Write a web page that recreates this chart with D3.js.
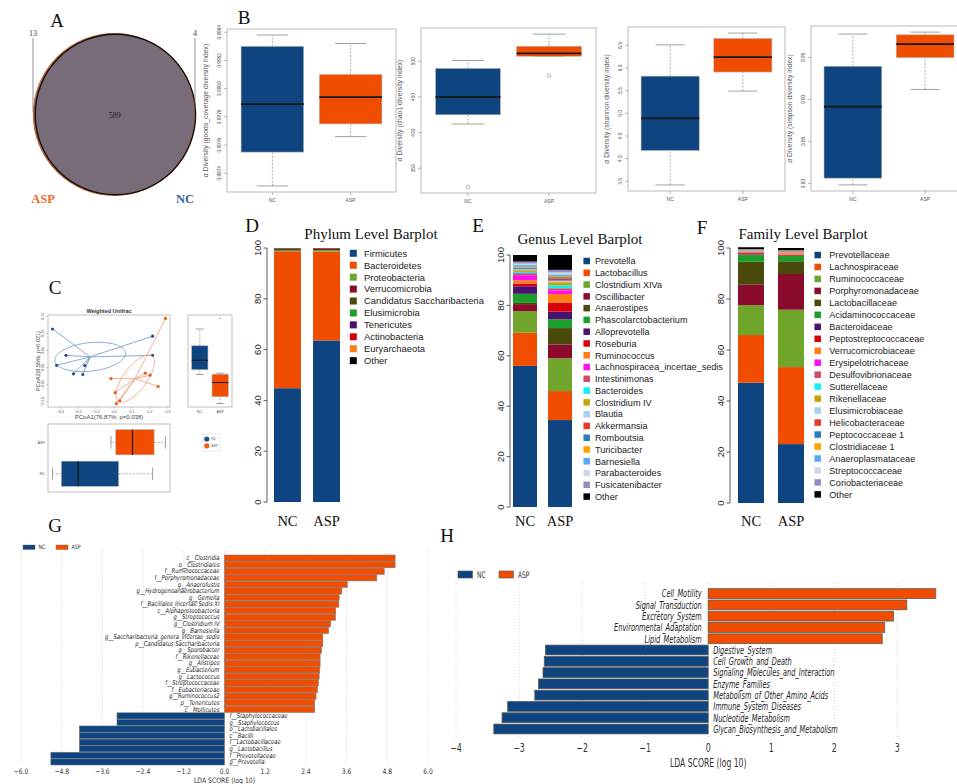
<!DOCTYPE html>
<html>
<head>
<meta charset="utf-8">
<script src="https://cdn.jsdelivr.net/npm/d3@7"></script>
<style>
  html, body { margin: 0; padding: 0; background: #fff; }
  svg { display: block; }
</style>
</head>
<body>
<svg id="fig" width="957" height="784"></svg>
<script>
// ---------------- data ----------------
const groups = ["NC", "ASP"];
const groupColors = ["#0e447f", "#f04d00"];

// A: shared / unique OTUs
const vennOnlyASP = 13;
const vennOnlyNC = 4;
const vennShared = 589;

// B: alpha diversity, [lower whisker, lower hinge, median, upper hinge, upper whisker]
const goodsNC  = [0.99731, 0.99755, 0.99789, 0.99830, 0.99838];
const goodsASP = [0.99766, 0.99775, 0.99794, 0.99810, 0.99832];
const goodsTicks = [0.9974, 0.9976, 0.9978, 0.9980, 0.9982, 0.9984];
const chao1NC  = [412, 425, 450, 490, 501];
const chao1ASP = [507, 507, 511, 521, 538];
const chao1OutliersNC = [324];
const chao1OutliersASP = [480];
const chao1Ticks = [350, 400, 450, 500];
const shannonNC  = [3.42, 4.18, 4.89, 5.82, 6.51];
const shannonASP = [5.49, 5.91, 6.24, 6.65, 6.77];
const shannonTicks = [3.5, 4.0, 4.5, 5.0, 5.5, 6.0, 6.5];
const simpsonNC  = [0.7983, 0.8063, 0.8914, 0.9394, 0.9777];
const simpsonASP = [0.9118, 0.9496, 0.9658, 0.9768, 0.9800];
const simpsonTicks = [0.80, 0.85, 0.90, 0.95];

// C: PCoA sample coordinates (weighted UniFrac)
const pcoaNCx  = [-0.343, -0.268, -0.320, -0.226, -0.174, -0.163, 0.215, 0.215];
const pcoaNCy  = [0.113, 0.036, 0.007, -0.018, -0.020, 0.006, 0.092, 0.036];
const pcoaASPx = [0.287, -0.017, 0.006, 0.013, 0.032, 0.174, 0.201, 0.246];
const pcoaASPy = [0.144, -0.032, -0.073, -0.105, -0.097, -0.016, -0.022, -0.055];
const pcoaXTicks = [-0.3, -0.2, -0.1, 0.0, 0.1, 0.2, 0.3];
const pcoaYTicks = [-0.10, -0.05, 0.00, 0.05, 0.10, 0.15];

// D: phylum relative abundance (%)
const phylumNames = ["Firmicutes", "Bacteroidetes", "Proteobacteria", "Verrucomicrobia",
  "Candidatus Saccharibacteria", "Elusimicrobia", "Tenericutes", "Actinobacteria", "Euryarchaeota", "Other"];
const phylumNC  = [44.8, 53.9, 0.2, 0.1, 0.7, 0.05, 0.05, 0.05, 0.02, 0.13];
const phylumASP = [63.6, 35.0, 0.6, 0.4, 0.2, 0.02, 0.05, 0.03, 0.0, 0.1];

// E: genus relative abundance (%)
const genusNames = ["Prevotella", "Lactobacillus", "Clostridium XIVa", "Oscillibacter", "Anaerostipes",
  "Phascolarctobacterium", "Alloprevotella", "Roseburia", "Ruminococcus", "Lachnospiracea_incertae_sedis",
  "Intestinimonas", "Bacteroides", "Clostridium IV", "Blautia", "Akkermansia", "Romboutsia",
  "Turicibacter", "Barnesiella", "Parabacteroides", "Fusicatenibacter", "Other"];
const genusNC  = [56.0, 13.2, 8.5, 2.8, 0.5, 3.6, 3.0, 1.1, 1.3, 2.0, 0.8, 0.5, 0.7, 0.4, 0.1, 0.5, 0.3, 0.7, 0.6, 0.8, 2.6];
const genusASP = [34.5, 11.5, 13.0, 5.5, 6.5, 3.5, 3.0, 3.5, 3.5, 1.5, 0.8, 1.2, 1.2, 0.6, 0.8, 0.6, 0.5, 0.6, 0.8, 1.0, 5.9];

// F: family relative abundance (%)
const familyNames = ["Prevotellaceae", "Lachnospiraceae", "Ruminococcaceae", "Porphyromonadaceae",
  "Lactobacillaceae", "Acidaminococcaceae", "Bacteroidaceae", "Peptostreptococcaceae", "Verrucomicrobiaceae",
  "Erysipelotrichaceae", "Desulfovibrionaceae", "Sutterellaceae", "Rikenellaceae", "Elusimicrobiaceae",
  "Helicobacteraceae", "Peptococcaceae 1", "Clostridiaceae 1", "Anaeroplasmataceae", "Streptococcaceae",
  "Coriobacteriaceae", "Other"];
const familyNC  = [47.2, 18.7, 11.7, 8.0, 9.0, 2.8, 0.1, 0.5, 0.1, 0.2, 0.3, 0.1, 0.2, 0.05, 0.1, 0.1, 0.1, 0.05, 0.1, 0.1, 0.8];
const familyASP = [23.1, 30.2, 22.5, 14.0, 5.0, 2.1, 0.1, 0.4, 0.4, 0.1, 0.3, 0.1, 0.2, 0.02, 0.2, 0.1, 0.1, 0.03, 0.05, 0.1, 0.9];

// shared palette for stacked bars
const taxaPalette = ["#0e447f", "#f04d00", "#6ea52a", "#8a0b2c", "#4a4a0c", "#1c9e2a", "#4b1170",
  "#d8000f", "#ff7f15", "#ff10f0", "#cc4d6c", "#12f0f4", "#c2a50a", "#a7d0ec", "#e8392d", "#2a7fb8",
  "#ffa200", "#55aaf2", "#d0d7e6", "#8f8fc6", "#000000"];
const phylumPalette = ["#0e447f", "#f04d00", "#6ea52a", "#8a0b2c", "#4a4a0c", "#1c9e2a", "#4b1170",
  "#d8000f", "#ff7f15", "#000000"];

// G: LEfSe LDA scores of taxa (positive = ASP, negative = NC)
const ldaTaxa = ["c__Clostridia", "o__Clostridiales", "f__Ruminococcaceae", "f__Porphyromonadaceae",
  "g__Anaerofustis", "g__Hydrogenoanaerobacterium", "g__Gemella", "f__Bacillales_Incertae Sedis XI",
  "c__Alphaproteobacteria", "g__Streptococcus", "g__Clostridium IV", "g__Barnesiella",
  "g__Saccharibacteria_genera_incertae_sedis", "p__Candidatus Saccharibacteria", "g__Sporobacter",
  "f__Rikenellaceae", "g__Alistipes", "g__Eubacterium", "g__Lactococcus", "f__Streptococcaceae",
  "f__Eubacteriaceae", "g__Ruminococcus2", "p__Tenericutes", "c__Mollicutes",
  "f__Staphylococcaceae", "g__Staphylococcus", "o__Lactobacillales", "c__Bacilli",
  "f__Lactobacillaceae", "g__Lactobacillus", "f__Prevotellaceae", "g__Prevotella"];
const ldaTaxaScore = [5.03, 5.03, 4.71, 4.49, 3.62, 3.46, 3.38, 3.37, 3.28, 3.27, 3.13, 3.07,
  2.90, 2.90, 2.86, 2.82, 2.82, 2.81, 2.79, 2.77, 2.74, 2.70, 2.66, 2.66,
  -3.17, -3.17, -4.28, -4.28, -4.28, -4.28, -5.12, -5.12];
const ldaTaxaTicks = [-6.0, -4.8, -3.6, -2.4, -1.2, 0.0, 1.2, 2.4, 3.6, 4.8, 6.0];

// H: LEfSe LDA scores of predicted KEGG functions
const keggPathways = ["Cell_Motility", "Signal_Transduction", "Excretory_System", "Environmental_Adaptation",
  "Lipid_Metabolism", "Digestive_System", "Cell_Growth_and_Death", "Signaling_Molecules_and_Interaction",
  "Enzyme_Families", "Metabolism_of_Other_Amino_Acids", "Immune_System_Diseases",
  "Nucleotide_Metabolism", "Glycan_Biosynthesis_and_Metabolism"];
const keggScore = [3.61, 3.15, 2.94, 2.80, 2.76, -2.58, -2.60, -2.62, -2.69, -2.75, -3.18, -3.27, -3.40];
const keggTicks = [-4, -3, -2, -1, 0, 1, 2, 3];

// ---------------- helpers ----------------
const svg = d3.select("#fig");
const SERIF = "'Liberation Serif','Times New Roman',serif";
const SANS = "'Liberation Sans',Arial,sans-serif";
const MPL = "'DejaVu Sans',sans-serif";

function panelLetter(x, y, t) {
  svg.append("text").attr("x", x).attr("y", y + 6.5).attr("text-anchor", "middle")
    .attr("font-family", SERIF).attr("font-size", 19).attr("fill", "#111").text(t);
}

// text squeezed horizontally (LEfSe panels are narrowed)
function sText(parent, x, y, str, o) {
  return parent.append("text")
    .attr("transform", `translate(${x},${y}) scale(${o.sx || 1},1)`)
    .attr("text-anchor", o.anchor || "start")
    .attr("font-family", o.family || MPL)
    .attr("font-size", o.size)
    .attr("font-style", o.italic ? "italic" : "normal")
    .attr("fill", o.fill || "#222")
    .text(str);
}

// R style box glyph; cat in group units, values through valScale
function boxGlyph(g, st, outliers, cat, catScale, valScale, horiz, fill, o = {}) {
  const P = (c, v) => horiz ? [valScale(v), catScale(c)] : [catScale(c), valScale(v)];
  const seg = (c1, v1, c2, v2) => {
    const [x1, y1] = P(c1, v1), [x2, y2] = P(c2, v2);
    return g.append("line").attr("x1", x1).attr("y1", y1).attr("x2", x2).attr("y2", y2);
  };
  const hw = 0.4;
  seg(cat, st[0], cat, st[1]).attr("stroke", "#8a8a8a").attr("stroke-width", 0.7).attr("stroke-dasharray", "2,1.5");
  seg(cat, st[3], cat, st[4]).attr("stroke", "#8a8a8a").attr("stroke-width", 0.7).attr("stroke-dasharray", "2,1.5");
  seg(cat - hw / 2, st[0], cat + hw / 2, st[0]).attr("stroke", "#8a8a8a").attr("stroke-width", 0.8);
  seg(cat - hw / 2, st[4], cat + hw / 2, st[4]).attr("stroke", "#8a8a8a").attr("stroke-width", 0.8);
  const [xa, ya] = P(cat - hw, st[1]), [xb, yb] = P(cat + hw, st[3]);
  g.append("rect").attr("x", Math.min(xa, xb)).attr("y", Math.min(ya, yb))
    .attr("width", Math.abs(xb - xa)).attr("height", Math.abs(yb - ya))
    .attr("fill", fill).attr("stroke", "#b5b5b5").attr("stroke-width", 0.6);
  seg(cat - hw, st[2], cat + hw, st[2]).attr("stroke", "#151515").attr("stroke-width", o.medW || 1.8);
  (outliers || []).forEach(v => {
    const [x, y] = P(cat, v);
    g.append("circle").attr("cx", x).attr("cy", y).attr("r", o.outR || 1.8)
      .attr("fill", "none").attr("stroke", "#8a8a8a").attr("stroke-width", 0.6);
  });
}

// R's boxplot.stats: Tukey hinges and 1.5*IQR whiskers
function boxStats(values) {
  const x = values.slice().sort((a, b) => a - b), n = x.length;
  const n4 = Math.floor((n + 3) / 2) / 2;
  const d = [1, n4, (n + 1) / 2, n + 1 - n4, n];
  const f = d.map(di => 0.5 * (x[Math.floor(di) - 1] + x[Math.ceil(di) - 1]));
  const iqr = f[3] - f[1], lo = f[1] - 1.5 * iqr, hi = f[3] + 1.5 * iqr;
  const inside = x.filter(v => v >= lo && v <= hi);
  return { st: [d3.min(inside), f[1], f[2], f[3], d3.max(inside)], out: x.filter(v => v < lo || v > hi) };
}

function extended(values) {
  const [a, b] = d3.extent(values), pad = (b - a) * 0.04;
  return [a - pad, b + pad];
}

// ---------------- A: Venn ----------------
panelLetter(57, 20, "A");
{
  const g = svg.append("g");
  const rScale = d3.scaleSqrt().domain([0, vennShared + vennOnlyASP]).range([0, 80.8]);
  const rASP = rScale(vennShared + vennOnlyASP), rNC = rScale(vennShared + vennOnlyNC);
  const cy = 114.5, cxASP = 33.5 + rASP, cxNC = 195.6 - rNC;
  g.append("circle").attr("cx", cxASP).attr("cy", cy).attr("r", rASP).attr("fill", "#776c77");
  g.append("circle").attr("cx", cxNC).attr("cy", cy).attr("r", rNC).attr("fill", "#776c77");
  g.append("circle").attr("cx", cxASP).attr("cy", cy).attr("r", rASP).attr("fill", "none")
    .attr("stroke", "#c8622e").attr("stroke-width", 1.3);
  g.append("circle").attr("cx", cxNC).attr("cy", cy).attr("r", rNC).attr("fill", "none")
    .attr("stroke", "#111").attr("stroke-width", 1.4);
  g.append("text").attr("x", (cxASP + cxNC) / 2).attr("y", cy + 3).attr("text-anchor", "middle")
    .attr("font-family", SERIF).attr("font-size", 8).attr("fill", "#2a2230").text(vennShared);
  g.append("line").attr("x1", 33).attr("x2", 33).attr("y1", 38).attr("y2", 112).attr("stroke", "#666").attr("stroke-width", 0.7);
  g.append("line").attr("x1", 195).attr("x2", 195).attr("y1", 38).attr("y2", 110).attr("stroke", "#666").attr("stroke-width", 0.7);
  g.append("text").attr("x", 33).attr("y", 36).attr("text-anchor", "middle").attr("font-family", SERIF)
    .attr("font-size", 8).attr("fill", "#444").text(vennOnlyASP);
  g.append("text").attr("x", 195).attr("y", 36).attr("text-anchor", "middle").attr("font-family", SERIF)
    .attr("font-size", 8).attr("fill", "#444").text(vennOnlyNC);
  g.append("text").attr("x", 43).attr("y", 203).attr("text-anchor", "middle").attr("font-family", SERIF)
    .attr("font-size", 12.5).attr("font-weight", "bold").attr("fill", "#e8682c").text("ASP");
  g.append("text").attr("x", 185).attr("y", 203).attr("text-anchor", "middle").attr("font-family", SERIF)
    .attr("font-size", 12.5).attr("font-weight", "bold").attr("fill", "#2f6aa3").text("NC");
}

// ---------------- B: alpha diversity boxplots ----------------
panelLetter(244, 17, "B");
function alphaPanel(frame, statsNC, statsASP, outNC, outASP, ticks, fmt, label) {
  const g = svg.append("g");
  const allVals = statsNC.concat(statsASP, outNC, outASP);
  const y = d3.scaleLinear().domain(extended(allVals)).range([frame.y1, frame.y0]);
  const x = d3.scaleLinear().domain([0.42, 2.58]).range([frame.x0, frame.x1]);
  g.append("rect").attr("x", frame.x0).attr("y", frame.y0).attr("width", frame.x1 - frame.x0)
    .attr("height", frame.y1 - frame.y0).attr("fill", "none").attr("stroke", "#a8a8a8").attr("stroke-width", 0.8);
  boxGlyph(g, statsNC, outNC, 1, x, y, false, groupColors[0]);
  boxGlyph(g, statsASP, outASP, 2, x, y, false, groupColors[1]);
  ticks.forEach(t => {
    g.append("line").attr("x1", frame.x0 - 3).attr("x2", frame.x0).attr("y1", y(t)).attr("y2", y(t))
      .attr("stroke", "#888").attr("stroke-width", 0.6);
    g.append("text").attr("transform", `translate(${frame.x0 - 6},${y(t)}) rotate(-90)`)
      .attr("text-anchor", "middle").attr("font-family", SANS).attr("font-size", 4.8).attr("fill", "#555")
      .text(fmt(t));
  });
  groups.forEach((gname, i) => {
    g.append("line").attr("x1", x(i + 1)).attr("x2", x(i + 1)).attr("y1", frame.y1).attr("y2", frame.y1 + 3)
      .attr("stroke", "#888").attr("stroke-width", 0.6);
    g.append("text").attr("x", x(i + 1)).attr("y", frame.y1 + 10).attr("text-anchor", "middle")
      .attr("font-family", SANS).attr("font-size", 5).attr("fill", "#555").text(gname);
  });
  g.append("text").attr("transform", `translate(${frame.x0 - 19},${(frame.y0 + frame.y1) / 2}) rotate(-90)`)
    .attr("text-anchor", "middle").attr("font-family", SANS).attr("font-size", 6.8).attr("fill", "#555").text(label);
}
alphaPanel({ x0: 227, x1: 396, y0: 29, y1: 192 }, goodsNC, goodsASP, [], [], goodsTicks, d3.format(".4f"),
  "α Diversity (goods_coverage diversity index)");
alphaPanel({ x0: 421, x1: 596, y0: 28, y1: 193 }, chao1NC, chao1ASP, chao1OutliersNC, chao1OutliersASP, chao1Ticks, d3.format("d"),
  "α Diversity (chao1 diversity index)");
alphaPanel({ x0: 628, x1: 785, y0: 27, y1: 191 }, shannonNC, shannonASP, [], [], shannonTicks, d3.format(".1f"),
  "α Diversity (shannon diversity index)");
alphaPanel({ x0: 811, x1: 967, y0: 26, y1: 191 }, simpsonNC, simpsonASP, [], [], simpsonTicks, d3.format(".2f"),
  "α Diversity (simpson diversity index)");

// ---------------- C: PCoA ----------------
panelLetter(55, 287, "C");
{
  const g = svg.append("g");
  const fr = { x0: 48, x1: 170, y0: 315, y1: 407 };
  const x = d3.scaleLinear().domain(extended(pcoaNCx.concat(pcoaASPx))).range([fr.x0, fr.x1]);
  const y = d3.scaleLinear().domain(extended(pcoaNCy.concat(pcoaASPy))).range([fr.y1, fr.y0]);
  g.append("rect").attr("x", fr.x0).attr("y", fr.y0).attr("width", fr.x1 - fr.x0).attr("height", fr.y1 - fr.y0)
    .attr("fill", "none").attr("stroke", "#b0b0b0").attr("stroke-width", 0.8);
  g.append("text").attr("x", (fr.x0 + fr.x1) / 2).attr("y", fr.y0 - 2.5).attr("text-anchor", "middle")
    .attr("font-family", SANS).attr("font-weight", "bold").attr("font-size", 5.5).attr("fill", "#333").text("Weighted Unifrac");
  pcoaXTicks.forEach(t => {
    g.append("line").attr("x1", x(t)).attr("x2", x(t)).attr("y1", fr.y1).attr("y2", fr.y1 + 2).attr("stroke", "#999").attr("stroke-width", 0.5);
    g.append("text").attr("x", x(t)).attr("y", fr.y1 + 6).attr("text-anchor", "middle").attr("font-family", SANS)
      .attr("font-size", 3.8).attr("fill", "#555").text(d3.format(".1f")(t));
  });
  pcoaYTicks.forEach(t => {
    g.append("line").attr("x1", fr.x0 - 2).attr("x2", fr.x0).attr("y1", y(t)).attr("y2", y(t)).attr("stroke", "#999").attr("stroke-width", 0.5);
    g.append("text").attr("transform", `translate(${fr.x0 - 4},${y(t)}) rotate(-90)`).attr("text-anchor", "middle")
      .attr("font-family", SANS).attr("font-size", 3.8).attr("fill", "#555").text(d3.format(".2f")(t));
  });
  g.append("text").attr("x", (fr.x0 + fr.x1) / 2).attr("y", fr.y1 + 12).attr("text-anchor", "middle")
    .attr("font-family", SANS).attr("font-size", 6).attr("fill", "#444").text("PCoA1(76.87%; p=0.038)");
  g.append("text").attr("transform", `translate(${fr.x0 - 8.5},${(fr.y0 + fr.y1) / 2}) rotate(-90)`).attr("text-anchor", "middle")
    .attr("font-family", SANS).attr("font-size", 5.5).attr("fill", "#444").text("PCoA2(8.55%; p=0.021)");

  const sets = [
    { xs: pcoaNCx, ys: pcoaNCy, pt: "#1e4f8c", ln: "#6a95c4" },
    { xs: pcoaASPx, ys: pcoaASPy, pt: "#f0581a", ln: "#f39a72" }
  ];
  sets.forEach(s => {
    const mx = d3.mean(s.xs), my = d3.mean(s.ys);
    const n = s.xs.length;
    const vx = d3.variance(s.xs), vy = d3.variance(s.ys);
    const cxy = d3.sum(s.xs, (v, i) => (v - mx) * (s.ys[i] - my)) / (n - 1);
    // covariance ellipse via Cholesky factor
    const l11 = Math.sqrt(vx), l21 = cxy / l11, l22 = Math.sqrt(vy - l21 * l21), k = 0.88;
    const pts = d3.range(0, 2 * Math.PI + 0.01, Math.PI / 60).map(t =>
      [x(mx + k * l11 * Math.cos(t)), y(my + k * (l21 * Math.cos(t) + l22 * Math.sin(t)))]);
    g.append("path").attr("d", d3.line()(pts)).attr("fill", "none").attr("stroke", s.ln).attr("stroke-width", 0.8);
    s.xs.forEach((v, i) => {
      g.append("line").attr("x1", x(mx)).attr("y1", y(my)).attr("x2", x(v)).attr("y2", y(s.ys[i]))
        .attr("stroke", s.ln).attr("stroke-width", 0.8);
    });
    s.xs.forEach((v, i) => {
      g.append("circle").attr("cx", x(v)).attr("cy", y(s.ys[i])).attr("r", 1.6).attr("fill", s.pt);
    });
  });

  // right marginal box: PCoA2
  const fr2 = { x0: 188, x1: 232, y0: 315, y1: 407 };
  g.append("rect").attr("x", fr2.x0).attr("y", fr2.y0).attr("width", fr2.x1 - fr2.x0).attr("height", fr2.y1 - fr2.y0)
    .attr("fill", "none").attr("stroke", "#b0b0b0").attr("stroke-width", 0.8);
  const c2 = d3.scaleLinear().domain([0.42, 2.58]).range([fr2.x0, fr2.x1]);
  [pcoaNCy, pcoaASPy].forEach((vals, i) => {
    const b = boxStats(vals);
    boxGlyph(g, b.st, [], i + 1, c2, y, false, groupColors[i], { medW: 1 });
    b.out.forEach(v => g.append("circle").attr("cx", c2(i + 1)).attr("cy", y(v)).attr("r", 0.6).attr("fill", "#777"));
    g.append("text").attr("x", c2(i + 1)).attr("y", fr2.y1 + 6).attr("text-anchor", "middle").attr("font-family", SANS)
      .attr("font-size", 3.8).attr("fill", "#555").text(groups[i]);
  });

  // bottom marginal box: PCoA1
  const fr3 = { x0: 48, x1: 170, y0: 424, y1: 492 };
  g.append("rect").attr("x", fr3.x0).attr("y", fr3.y0).attr("width", fr3.x1 - fr3.x0).attr("height", fr3.y1 - fr3.y0)
    .attr("fill", "none").attr("stroke", "#b0b0b0").attr("stroke-width", 0.8);
  const c3 = d3.scaleLinear().domain([0.42, 2.58]).range([fr3.y1, fr3.y0]);
  [pcoaNCx, pcoaASPx].forEach((vals, i) => {
    const b = boxStats(vals);
    boxGlyph(g, b.st, b.out, i + 1, c3, x, true, groupColors[i], { medW: 1.2 });
    g.append("text").attr("x", fr3.x0 - 3).attr("y", c3(i + 1) + 1.3).attr("text-anchor", "end").attr("font-family", SANS)
      .attr("font-size", 3.8).attr("fill", "#555").text(groups[i]);
  });

  // legend
  g.append("rect").attr("x", 203).attr("y", 434).attr("width", 17).attr("height", 17)
    .attr("fill", "#fff").attr("stroke", "#d0d0d0").attr("stroke-width", 0.5);
  groups.forEach((gname, i) => {
    g.append("circle").attr("cx", 206.8).attr("cy", 439 + i * 6.8).attr("r", 2.6).attr("fill", i ? "#f0581a" : "#1e4f8c");
    g.append("text").attr("x", 211.5).attr("y", 440.2 + i * 6.8).attr("font-family", SANS).attr("font-size", 3.2)
      .attr("fill", "#555").text(gname);
  });
}

// ---------------- D/E/F: stacked barplots ----------------
function stackedPanel(opt) {
  const g = svg.append("g");
  const rows = groups.map((gname, gi) => {
    const r = { group: gname };
    opt.names.forEach((nm, i) => r[nm] = opt.values[gi][i]);
    return r;
  });
  const series = d3.stack().keys(opt.names)(rows);
  const x = d3.scaleBand().domain(groups).range(opt.xRange).paddingInner(opt.pad).paddingOuter(0);
  const y = d3.scaleLinear().domain([0, 100]).range([opt.y0, opt.y100]);
  series.forEach((s, si) => {
    g.selectAll(null).data(s).enter().append("rect")
      .attr("x", d => x(d.data.group)).attr("width", x.bandwidth())
      .attr("y", d => y(d[1])).attr("height", d => Math.max(0, y(d[0]) - y(d[1])))
      .attr("fill", opt.colors[si]);
  });
  // y axis (R style)
  g.append("line").attr("x1", opt.axisX).attr("x2", opt.axisX).attr("y1", y(0)).attr("y2", y(100))
    .attr("stroke", "#333").attr("stroke-width", 0.8);
  d3.range(0, 101, 20).forEach(t => {
    g.append("line").attr("x1", opt.axisX - 3.5).attr("x2", opt.axisX).attr("y1", y(t)).attr("y2", y(t))
      .attr("stroke", "#333").attr("stroke-width", 0.8);
    g.append("text").attr("transform", `translate(${opt.axisX - 6.5},${y(t)}) rotate(-90)`)
      .attr("text-anchor", "middle").attr("font-family", SANS).attr("font-size", 9.5).attr("fill", "#222").text(t);
  });
  groups.forEach(gname => {
    g.append("text").attr("x", x(gname) + x.bandwidth() / 2).attr("y", 526).attr("text-anchor", "middle")
      .attr("font-family", SERIF).attr("font-size", 14.5).attr("fill", "#111").text(gname);
  });
  g.append("text").attr("x", opt.titleX).attr("y", opt.titleY).attr("text-anchor", "middle")
    .attr("font-family", SERIF).attr("font-size", 15).attr("fill", "#111").text(opt.title);
  // legend
  opt.names.forEach((nm, i) => {
    const cy = opt.legY + i * opt.legStep;
    g.append("rect").attr("x", opt.legX - opt.sq / 2).attr("y", cy - opt.sq / 2).attr("width", opt.sq).attr("height", opt.sq)
      .attr("fill", opt.colors[i]);
    g.append("text").attr("x", opt.legTextX).attr("y", cy + opt.legFont * 0.36).attr("font-family", SANS)
      .attr("font-size", opt.legFont).attr("fill", "#222").text(nm);
  });
}

panelLetter(252, 225, "D");
stackedPanel({
  names: phylumNames, values: [phylumNC, phylumASP], colors: phylumPalette,
  xRange: [274, 340], pad: 0.31, y0: 502, y100: 248, axisX: 267,
  title: "Phylum Level Barplot", titleX: 371, titleY: 239,
  legX: 353.3, legTextX: 364, legY: 253.3, legStep: 11.93, sq: 7, legFont: 9.4
});
panelLetter(478, 225, "E");
stackedPanel({
  names: genusNames, values: [genusNC, genusASP], colors: taxaPalette,
  xRange: [513, 572], pad: 0.314, y0: 507, y100: 255, axisX: 510,
  title: "Genus Level Barplot", titleX: 580, titleY: 244,
  legX: 586.7, legTextX: 595, legY: 261, legStep: 11.78, sq: 6.5, legFont: 9.1
});
panelLetter(702, 227, "F");
stackedPanel({
  names: familyNames, values: [familyNC, familyASP], colors: taxaPalette,
  xRange: [738, 804], pad: 0.35, y0: 503, y100: 248, axisX: 730,
  title: "Family Level Barplot", titleX: 803, titleY: 239,
  legX: 817.7, legTextX: 829.3, legY: 255, legStep: 11.97, sq: 6.5, legFont: 9.1
});

// ---------------- G: LEfSe taxa ----------------
panelLetter(55, 525, "G");
{
  const g = svg.append("g");
  const x = d3.scaleLinear().domain([-6, 6]).range([21, 428]);
  const y = d3.scaleBand().domain(ldaTaxa).range([555, 765]).paddingInner(0.06);
  ldaTaxaTicks.forEach(t => {
    g.append("line").attr("x1", x(t)).attr("x2", x(t)).attr("y1", 551).attr("y2", 766)
      .attr("stroke", "#c8c8c8").attr("stroke-width", 0.7).attr("stroke-dasharray", "1,1.5");
    sText(g, x(t), 774, d3.format(".1f")(t), { size: 7.5, sx: 0.8, anchor: "middle", fill: "#333" });
  });
  sText(g, x(0), 783, "LDA SCORE (log 10)", { size: 7.5, sx: 0.82, anchor: "middle", fill: "#333" });
  ldaTaxa.forEach((nm, i) => {
    const v = ldaTaxaScore[i], pos = v > 0;
    g.append("rect").attr("x", x(Math.min(0, v))).attr("width", Math.abs(x(v) - x(0)))
      .attr("y", y(nm)).attr("height", y.bandwidth())
      .attr("fill", pos ? groupColors[1] : groupColors[0]).attr("stroke", "#7a7a7a").attr("stroke-width", 0.6);
    sText(g, pos ? x(0) - 5 : x(0) + 5, y(nm) + y.bandwidth() / 2 + 2.2, nm,
      { size: 6.6, sx: 0.8, anchor: pos ? "end" : "start", italic: true, fill: "#222" });
  });
  // legend
  groups.forEach((gname, i) => {
    const lx = i ? 56 : 23;
    g.append("rect").attr("x", lx).attr("y", 545).attr("width", 12).attr("height", 4.5)
      .attr("fill", groupColors[i]).attr("stroke", "#666").attr("stroke-width", 0.4);
    sText(g, lx + 15.5, 549.3, gname, { size: 6, sx: 0.8, fill: "#333" });
  });
}

// ---------------- H: LEfSe predicted functions ----------------
panelLetter(447, 535, "H");
{
  const g = svg.append("g");
  const x = d3.scaleLinear().domain([-4, 4]).range([456, 960.4]);
  const y = d3.scaleBand().domain(keggPathways).range([588.7, 733.9]).paddingInner(0.13);
  keggTicks.forEach(t => {
    g.append("line").attr("x1", x(t)).attr("x2", x(t)).attr("y1", 583).attr("y2", 737)
      .attr("stroke", "#c4c4c4").attr("stroke-width", 0.8).attr("stroke-dasharray", "1,2");
    sText(g, x(t), 752, t < 0 ? "\u2212" + Math.abs(t) : String(t), { size: 12, sx: 0.66, anchor: "middle", fill: "#333" });
  });
  sText(g, x(0), 767, "LDA SCORE (log 10)", { size: 12, sx: 0.64, anchor: "middle", fill: "#333" });
  keggPathways.forEach((nm, i) => {
    const v = keggScore[i], pos = v > 0;
    g.append("rect").attr("x", x(Math.min(0, v))).attr("width", Math.abs(x(v) - x(0)))
      .attr("y", y(nm)).attr("height", y.bandwidth())
      .attr("fill", pos ? groupColors[1] : groupColors[0]).attr("stroke", "#5a5a5a").attr("stroke-width", 0.8);
    sText(g, pos ? x(0) - 6.5 : x(0) + 5, y(nm) + y.bandwidth() / 2 + 3.8, nm,
      { size: 11, sx: 0.6, anchor: pos ? "end" : "start", italic: true, fill: "#222" });
  });
  groups.forEach((gname, i) => {
    const lx = i ? 499 : 458;
    g.append("rect").attr("x", lx).attr("y", 571).attr("width", 14.5).attr("height", 7)
      .attr("fill", groupColors[i]).attr("stroke", "#555").attr("stroke-width", 0.6);
    sText(g, lx + 19, 578, gname, { size: 9, sx: 0.66, fill: "#333" });
  });
}
</script>
</body>
</html>
